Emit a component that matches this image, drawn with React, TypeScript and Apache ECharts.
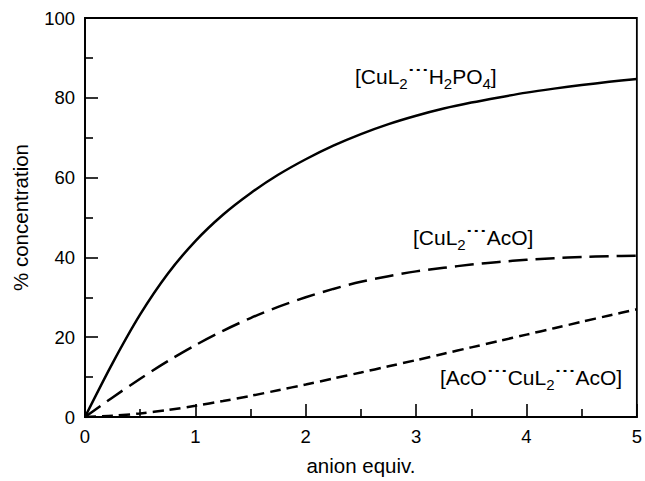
import React, { useEffect, useRef } from "react";
import * as echarts from "echarts";

const xValues = [0, 0.25, 0.5, 0.75, 1, 1.25, 1.5, 1.75, 2, 2.25, 2.5, 2.75, 3, 3.25, 3.5, 3.75, 4, 4.25, 4.5, 4.75, 5];
const h2po4Values = [0, 13.5, 25.7, 35.9, 44.1, 50.7, 56.1, 60.7, 64.6, 68.0, 70.9, 73.4, 75.5, 77.3, 78.8, 80.1, 81.3, 82.3, 83.2, 84.0, 84.7];
const acoValues = [0, 4.9, 9.6, 14.0, 18.0, 21.6, 24.8, 27.6, 30.0, 32.1, 33.9, 35.3, 36.5, 37.4, 38.2, 38.85, 39.4, 39.8, 40.1, 40.3, 40.4];
const bisAcoValues = [0, 0.3, 0.9, 1.75, 2.8, 4.0, 5.3, 6.7, 8.15, 9.65, 11.15, 12.7, 14.25, 15.85, 17.45, 19.05, 20.65, 22.25, 23.85, 25.45, 27.0];

const xTicks = [0, 1, 2, 3, 4, 5];
const yTicks = [0, 20, 40, 60, 80, 100];

const FONT = "'Liberation Sans', Arial, Helvetica, sans-serif";

const pairs = (ys: number[]) => xValues.map((x, i) => [x, ys[i]]);

const rich = {
  m: { fontSize: 21, lineHeight: 30, color: "#000", fontFamily: FONT },
  s: { fontSize: 15, lineHeight: 30, verticalAlign: "bottom", color: "#000", fontFamily: FONT },
  d: { fontSize: 21, lineHeight: 30, color: "#000", fontFamily: FONT, fontWeight: "bold" },
};

export default function App() {
  const ref = useRef<HTMLDivElement>(null);
  useEffect(() => {
    if (!ref.current) return;
    const chart = echarts.init(ref.current, undefined, { renderer: "svg" });
    const axisCommon = {
      axisLine: { show: true, lineStyle: { color: "#000", width: 1.8 } },
      axisTick: { show: true, inside: true, length: 13, lineStyle: { color: "#000", width: 1.6 } },
      minorTick: { show: true, splitNumber: 2, length: 8, lineStyle: { color: "#000", width: 1.6 } },
      splitLine: { show: false },
      axisLabel: { color: "#000", fontSize: 18.5, fontFamily: FONT, margin: 10 },
      nameTextStyle: { color: "#000", fontSize: 20.5, fontFamily: FONT },
    };
    chart.setOption({
      animation: false,
      backgroundColor: "#fff",
      grid: {
        left: 85,
        right: 6,
        top: 18,
        bottom: 63,
        show: true,
        borderColor: "#000",
        borderWidth: 1.8,
        backgroundColor: "transparent",
      },
      xAxis: {
        type: "value",
        min: xTicks[0],
        max: xTicks[xTicks.length - 1],
        interval: 1,
        name: "anion equiv.",
        nameLocation: "middle",
        nameGap: 38,
        ...axisCommon,
      },
      yAxis: {
        type: "value",
        min: yTicks[0],
        max: yTicks[yTicks.length - 1],
        interval: 20,
        name: "% concentration",
        nameLocation: "middle",
        nameGap: 54,
        ...axisCommon,
      },
      series: [
        {
          type: "line",
          data: pairs(h2po4Values),
          smooth: 0.3,
          showSymbol: false,
          lineStyle: { color: "#000", width: 2.5, type: "solid" },
        },
        {
          type: "line",
          data: pairs(acoValues),
          smooth: 0.3,
          showSymbol: false,
          lineStyle: { color: "#000", width: 2.5, type: [19, 8] },
        },
        {
          type: "line",
          data: pairs(bisAcoValues),
          smooth: 0.3,
          showSymbol: false,
          lineStyle: { color: "#000", width: 2.5, type: [11, 6] },
        },
      ],
      graphic: [
        {
          type: "text",
          x: 355,
          y: 76,
          style: {
            text: "{m|[CuL}{s|2}{d|˙˙˙}{m|H}{s|2}{m|PO}{s|4}{m|]}",
            rich,
            align: "left",
            verticalAlign: "middle",
          },
        },
        {
          type: "text",
          x: 413,
          y: 237,
          style: {
            text: "{m|[CuL}{s|2}{d|˙˙˙}{m|AcO]}",
            rich,
            align: "left",
            verticalAlign: "middle",
          },
        },
        {
          type: "text",
          x: 440,
          y: 377,
          style: {
            text: "{m|[AcO}{d|˙˙˙}{m|CuL}{s|2}{d|˙˙˙}{m|AcO]}",
            rich,
            align: "left",
            verticalAlign: "middle",
          },
        },
      ],
    });
    return () => chart.dispose();
  }, []);
  return (
    <div
      ref={ref}
      style={{ position: "absolute", left: 0, top: 0, width: 645, height: 481 }}
    />
  );
}
